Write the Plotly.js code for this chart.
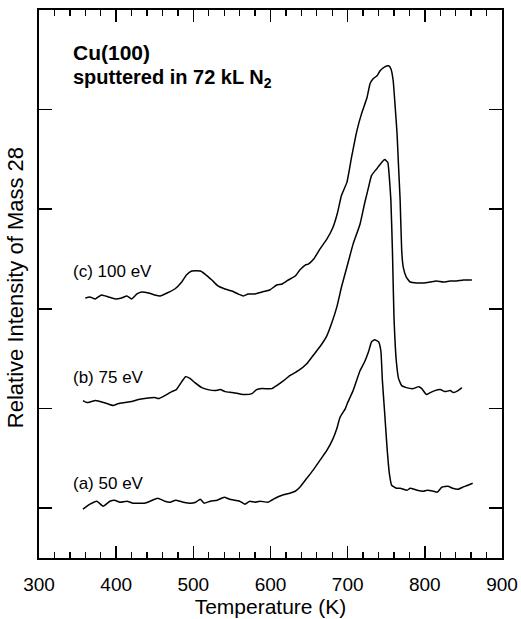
<!DOCTYPE html>
<html>
<head>
<meta charset="utf-8">
<script src="https://cdn.plot.ly/plotly-3.0.1.min.js"></script>
<style>
html,body{margin:0;padding:0;background:#fff;}
#wrap{position:relative;width:521px;height:619px;}
#frame,#chart{position:absolute;left:0;top:0;width:521px;height:619px;}
</style>
</head>
<body>
<div id="wrap"><div id="frame"></div><div id="chart"></div></div>
<script>
// Temperature (K) and relative intensity (arb. units, curves offset vertically)
const tempA = [357,366,375,383,392,398,405,414,422,437,444,454,463,470,477,487,496,503,509,514,522,531,540,547,560,567,573,580,586,597,606,615,625,632,638,647,655,664,673,680,686,690,697,700,707,716,722,727,731,735,740,743,745,748,751,754,757,763,768,777,781,790,798,803,811,816,822,830,836,843,849,856,862];
const intA = [-0.01,0.04,0.07,0.02,0.07,0.08,0.06,0.07,0.05,0.05,0.07,0.10,0.07,0.06,0.08,0.06,0.05,0.06,0.09,0.05,0.07,0.08,0.11,0.09,0.07,0.04,0.07,0.06,0.07,0.06,0.10,0.13,0.15,0.17,0.21,0.30,0.38,0.48,0.58,0.68,0.80,0.91,1.00,1.06,1.18,1.38,1.47,1.57,1.67,1.69,1.67,1.58,1.28,0.95,0.61,0.35,0.23,0.20,0.20,0.18,0.20,0.18,0.17,0.18,0.17,0.16,0.21,0.22,0.20,0.19,0.21,0.23,0.25];

const tempB = [357,362,368,373,379,388,396,403,411,420,429,437,450,455,463,472,478,485,490,496,502,511,519,528,535,541,550,558,567,576,582,589,602,608,617,625,636,647,655,664,673,679,686,692,699,707,716,722,727,731,738,744,748,752,754,756,758,760,763,766,770,776,785,792,796,802,807,813,820,826,833,837,843,848];
const intB = [1.08,1.06,1.07,1.08,1.07,1.05,1.03,1.05,1.06,1.07,1.09,1.10,1.11,1.10,1.13,1.17,1.19,1.27,1.32,1.30,1.26,1.21,1.19,1.18,1.19,1.17,1.16,1.15,1.14,1.15,1.19,1.20,1.20,1.23,1.28,1.33,1.38,1.45,1.53,1.62,1.73,1.85,2.02,2.22,2.42,2.65,2.85,3.06,3.22,3.34,3.41,3.47,3.50,3.47,3.32,3.09,2.59,1.92,1.48,1.30,1.23,1.21,1.20,1.22,1.20,1.14,1.16,1.18,1.19,1.17,1.18,1.16,1.18,1.21];

const tempC = [360,366,373,381,390,399,407,414,420,427,433,442,450,457,466,476,485,491,498,509,515,524,532,541,550,558,565,571,580,589,599,608,615,623,632,638,645,649,656,664,673,681,687,692,699,705,712,718,725,729,733,738,742,748,753,756,759,761,764,766,768,770,772,776,781,790,798,807,815,824,833,841,850,861];
const intC = [2.11,2.12,2.10,2.14,2.12,2.10,2.11,2.13,2.10,2.15,2.17,2.16,2.14,2.13,2.16,2.20,2.27,2.34,2.38,2.38,2.35,2.29,2.23,2.20,2.18,2.15,2.13,2.15,2.15,2.17,2.19,2.24,2.25,2.29,2.33,2.39,2.44,2.45,2.50,2.60,2.70,2.82,2.97,3.14,3.27,3.52,3.79,3.96,4.12,4.26,4.31,4.34,4.39,4.43,4.44,4.41,4.29,4.09,3.76,3.42,3.09,2.59,2.42,2.32,2.27,2.26,2.26,2.27,2.28,2.27,2.28,2.28,2.29,2.29];

const xRange = [300,900];
const yRange = [-0.5,5.0];
const xTickStart = 300, xTickStep = 100, xMinorStep = 20;
const yTicks = [0,1,2,3,4];
const seriesLabels = ['(a) 50 eV','(b) 75 eV','(c) 100 eV'];
const labelY = [0.25,1.31,2.38];

const FONT = 'Liberation Sans, Arial, Helvetica, sans-serif';
const MARGIN = {l:39, r:19, t:10, b:61};

// ---- bottom layer: frame with x-axis major/minor ticks (bottom and top) ----
const frameLayout = {
  width:521, height:619, margin:MARGIN, showlegend:false,
  xaxis:{
    range:xRange, tickmode:'linear', tick0:xTickStart, dtick:xTickStep,
    ticks:'inside', ticklen:12, tickwidth:1.6, tickcolor:'#000',
    minor:{ticks:'inside', ticklen:6, tickwidth:1.3, dtick:xMinorStep, tickcolor:'#000'},
    showticklabels:false,
    showline:true, linewidth:2, linecolor:'#000', mirror:'ticks',
    showgrid:false, zeroline:false
  },
  yaxis:{
    range:yRange, tickvals:yTicks, showticklabels:false,
    ticks:'inside', ticklen:13, tickwidth:1.6, tickcolor:'#000',
    showline:true, linewidth:2, linecolor:'#000', mirror:'ticks',
    showgrid:false, zeroline:false
  }
};
Plotly.newPlot('frame',
  [{x:tempA, y:intA, mode:'lines', line:{color:'rgba(0,0,0,0)', width:1}}],
  frameLayout, {staticPlot:true, displayModeBar:false});

// ---- top layer: curves, labels and titles (transparent background) ----
const mkLine = ()=>({color:'#000', width:1.5, shape:'spline', smoothing:0.4});
const traces = [
  {x:tempA, y:intA, mode:'lines', line:mkLine(), hoverinfo:'skip'},
  {x:tempB, y:intB, mode:'lines', line:mkLine(), hoverinfo:'skip'},
  {x:tempC, y:intC, mode:'lines', line:mkLine(), hoverinfo:'skip'}
];
const annotations = seriesLabels.map((t,i)=>({
  x:342, y:labelY[i], xref:'x', yref:'y', text:t, showarrow:false,
  xanchor:'left', yanchor:'middle', font:{family:FONT, size:17, color:'#000'}
}));
annotations.push({x:342, y:4.57, xref:'x', yref:'y', text:'<b>Cu(100)</b>', showarrow:false,
  xanchor:'left', yanchor:'middle', font:{family:FONT, size:21, color:'#000'}});
annotations.push({x:342, y:4.31, xref:'x', yref:'y', text:'<b>sputtered in 72 kL N<sub>2</sub></b>', showarrow:false,
  xanchor:'left', yanchor:'middle', font:{family:FONT, size:20, color:'#000'}});
annotations.push({x:-0.052, y:0.494, xref:'paper', yref:'paper', text:'Relative Intensity of Mass 28',
  textangle:-90, showarrow:false, xanchor:'center', yanchor:'middle', font:{family:FONT, size:22, color:'#000'}});

const layout = {
  width:521, height:619, margin:MARGIN, showlegend:false,
  paper_bgcolor:'rgba(0,0,0,0)', plot_bgcolor:'rgba(0,0,0,0)',
  xaxis:{
    range:xRange, tickmode:'linear', tick0:xTickStart, dtick:xTickStep,
    ticks:'inside', ticklen:12, tickwidth:1.6, tickcolor:'#000',
    showline:true, linewidth:2, linecolor:'#000', mirror:'ticks',
    showgrid:false, zeroline:false,
    tickfont:{family:FONT, size:19, color:'#000'}, ticklabelstandoff:8,
    title:{text:'Temperature (K)', font:{family:FONT, size:21, color:'#000'}, standoff:2}
  },
  yaxis:{
    range:yRange, tickvals:yTicks, showticklabels:false,
    ticks:'inside', ticklen:13, tickwidth:1.6, tickcolor:'#000',
    showline:true, linewidth:2, linecolor:'#000', mirror:'ticks',
    showgrid:false, zeroline:false
  },
  annotations:annotations
};
Plotly.newPlot('chart', traces, layout, {staticPlot:true, displayModeBar:false});
</script>
</body>
</html>
